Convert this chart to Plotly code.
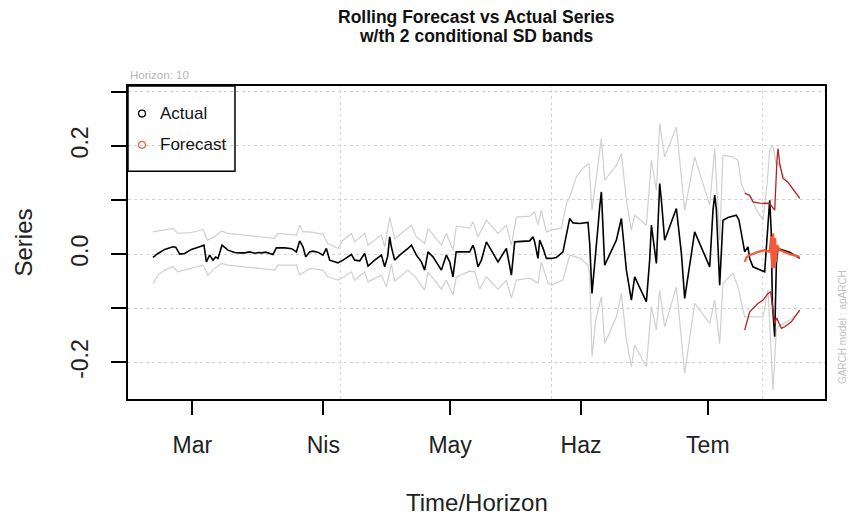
import pandas as pd
import plotly.graph_objects as go

# x positions are days since 2023-03-01 (fractional days allowed)
BASE = pd.Timestamp("2023-03-01")

actual_days = [-9.33, -8.14, -6.56, -4.59, -3.95, -3.01, -1.82, -0.24, 1.73, 2.75, 3.31, 4.09, 4.88, 5.52,
               6.06, 7.01, 8.43, 10.01, 11.2, 12.38, 13.56, 14.75, 15.69, 16.4, 17.35, 18.3, 19.08, 19.88,
               21.85, 23.5, 24.62, 25.4, 26.18, 26.82, 27.77, 28.48, 29.66, 30.91, 31.72, 32.5, 34.46, 35.65,
               37.64, 38.42, 39.6, 40.78, 41.57, 43.15, 44.74, 45.52, 46.23, 46.7, 47.1, 47.88, 49.07, 51.03,
               51.84, 53.02, 54.2, 54.98, 55.77, 56.95, 57.75, 58.94, 60.12, 60.9, 61.68, 62.44, 64.45, 65.64,
               66.42, 66.82, 67.6, 68.41, 69.59, 70.77, 72.34, 74.32, 75.51, 76.29, 78.25, 79.84, 80.62, 81.02,
               81.8, 82.21, 82.99, 83.79, 84.98, 86.16, 87.72, 89.31, 90.09, 91.67, 93.64, 94.04, 94.59, 95.22,
               96.01, 96.41, 96.81, 97.59, 100.36, 101.54, 102.73, 103.91, 104.69, 107.46, 108.24, 108.65,
               109.43, 109.83, 110.61, 111.01, 111.79, 114.56, 115.75, 116.53, 118.89, 122.45, 123.23, 123.63,
               124.03, 124.81, 125.59, 126.78, 128.76, 129.38, 130.73, 131.51, 131.91, 132.69, 135.46, 136.01,
               136.65, 137.0, 137.29, 137.83, 138.23, 138.61, 141.38, 143.75]
actual_vals = [-0.0061, 0.0013, 0.0087, 0.0135, 0.0129, 0.0, 0.0013, 0.0087, 0.0135, 0.0166, -0.0142, -0.0018,
               -0.0111, -0.0055, -0.0079, 0.0166, 0.0074, 0.0031, 0.0024, 0.0024, 0.0042, 0.0018, 0.0031, 0.0024,
               0.0037, 0.0018, -0.0006, 0.0116, 0.0116, 0.0101, 0.0042, 0.0245, 0.0135, -0.005, 0.0042, 0.0055,
               0.0037, -0.0018, 0.0105, -0.0111, -0.0161, -0.0111, -0.0006, -0.0111, -0.0124, 0.0013, -0.0221,
               -0.0111, -0.0018, -0.0234, -0.0037, 0.0319, 0.0135, -0.0111, -0.0018, 0.0105, 0.0166, -0.0018,
               -0.0142, -0.0295, 0.0042, -0.005, -0.0142, -0.0295, -0.0018, -0.0142, -0.0419, 0.0042, 0.0042,
               0.0042, 0.0166, 0.0074, -0.0234, -0.0111, 0.0227, 0.0074, -0.0142, 0.0105, -0.0387, 0.0227, 0.024,
               0.0245, 0.0319, 0.0227, -0.0079, 0.0258, 0.0111, -0.0079, -0.0079, -0.0061, 0.0042, 0.0659, 0.0577,
               0.0566, 0.0585, 0.0197, -0.0725, -0.0234, 0.0504, 0.0873, 0.1149, -0.0203, 0.0258, 0.0659, -0.0295,
               -0.0849, -0.0419, -0.088, -0.0111, 0.0535, 0.0013, -0.0172, 0.1304, 0.0996, 0.0258, 0.0843, 0.0013,
               -0.0817, 0.0411, -0.0234, 0.0812, 0.1089, 0.0812, -0.0572, 0.0627, 0.0677, 0.072, 0.0627, 0.0042,
               0.0135, -0.0079, -0.0234, -0.0327, 0.0258, 0.0996, 0.0443, -0.091, -0.1526, -0.0172, 0.0105, 0.0037,
               -0.0079]

upper_days = [-9.33, -6.56, -4.59, -3.41, -0.24, 2.51, 3.55, 5.28, 6.86, 8.43, 12.38, 19.48, 20.26, 24.62, 25.4,
              26.18, 27.77, 30.84, 32.09, 34.46, 35.65, 37.64, 38.42, 40.78, 41.57, 44.74, 45.52, 46.7, 47.88,
              51.03, 51.84, 53.02, 54.98, 55.77, 58.94, 60.12, 61.68, 62.49, 65.64, 66.42, 67.6, 69.59, 72.34,
              74.32, 75.51, 76.7, 79.84, 81.02, 81.8, 82.61, 83.79, 84.98, 87.34, 88.53, 89.31, 90.89, 92.45,
              93.88, 94.59, 96.81, 97.59, 100.36, 101.54, 102.73, 103.91, 104.69, 107.46, 108.65, 109.83, 110.61,
              111.79, 114.56, 116.53, 118.89, 122.45, 123.63, 124.81, 125.59, 127.96, 129.14, 129.95, 130.73,
              132.62, 133.57, 135.06, 136.01, 136.65, 137.36, 138.23, 138.61, 140.19, 143.75]
upper_vals = [0.0411, 0.0456, 0.0474, 0.0382, 0.04, 0.0456, 0.0258, 0.0319, 0.043, 0.0382, 0.0351, 0.029, 0.0382,
              0.0351, 0.0535, 0.0411, 0.0411, 0.0369, 0.0197, 0.0105, 0.0258, 0.0382, 0.0227, 0.0382, 0.0166,
              0.0351, 0.0135, 0.0677, 0.029, 0.0474, 0.0535, 0.0319, 0.0197, 0.0474, 0.0166, 0.0387, 0.0074,
              0.0517, 0.048, 0.0596, 0.0319, 0.0627, 0.0382, 0.0535, 0.0166, 0.0683, 0.0701, 0.0775, 0.0535,
              0.0812, 0.0411, 0.0443, 0.048, 0.0935, 0.1057, 0.1426, 0.1587, 0.1673, 0.0812, 0.2135, 0.1365,
              0.1642, 0.1858, 0.0996, 0.0443, 0.072, 0.0535, 0.1734, 0.1181, 0.2411, 0.1795, 0.2349, 0.0812,
              0.1795, 0.0904, 0.1956, 0.0258, 0.1827, 0.1795, 0.1734, 0.1304, 0.1149, 0.0996, 0.0812, 0.0627,
              0.1273, 0.1919, 0.2011, 0.1642, 0.1679, 0.1402, 0.1052]

lower_days = [-9.33, -8.14, -6.56, -4.59, -3.41, -0.24, 2.51, 3.69, 4.81, 6.86, 8.43, 12.38, 19.48, 20.26, 24.62,
              25.4, 26.58, 27.77, 30.84, 32.09, 34.46, 35.65, 37.64, 38.42, 40.78, 41.57, 44.74, 45.92, 47.1,
              47.88, 51.03, 53.02, 54.98, 55.77, 58.94, 60.12, 61.68, 62.49, 65.64, 66.82, 68.0, 69.59, 72.34,
              74.32, 75.51, 76.7, 79.84, 81.8, 82.61, 84.17, 84.98, 87.72, 89.31, 91.67, 93.64, 94.04, 94.59,
              95.46, 96.81, 97.59, 100.36, 101.54, 102.73, 103.91, 104.69, 107.46, 108.65, 109.83, 110.61,
              111.79, 114.56, 116.53, 118.89, 122.45, 123.63, 124.81, 125.59, 127.96, 129.14, 130.73, 135.06,
              136.25, 137.43, 138.23, 138.61, 141.38, 143.75]
lower_vals = [-0.0541, -0.0387, -0.0295, -0.0234, -0.0327, -0.0264, -0.0203, -0.0387, -0.0295, -0.0172, -0.0203,
              -0.0234, -0.0295, -0.0203, -0.0203, -0.0387, -0.0327, -0.0264, -0.0295, -0.0419, -0.048, -0.043,
              -0.0327, -0.048, -0.0327, -0.0511, -0.0387, -0.0603, -0.0185, -0.0498, -0.0295, -0.0443, -0.0664,
              -0.0332, -0.0646, -0.048, -0.0756, -0.0419, -0.0314, -0.0327, -0.0646, -0.0419, -0.0646, -0.048,
              -0.0812, -0.048, -0.0443, -0.0535, -0.0148, -0.0535, -0.0572, -0.048, -0.0018, -0.0074, -0.0203,
              -0.0387, -0.1895, -0.1218, -0.0788, -0.1648, -0.1157, -0.0725, -0.1587, -0.2079, -0.1679, -0.2079,
              -0.0972, -0.1402, -0.0664, -0.1341, -0.0603, -0.2201, -0.091, -0.1279, -0.0849, -0.1648, -0.0541,
              -0.0356, -0.0603, -0.1157, -0.1157, -0.0664, -0.2509, -0.1402, -0.1341, -0.1218, -0.1065]

forecast_days = [130.73, 131.2, 131.91, 133.88, 135.46, 136.65, 137.0, 137.24, 137.48, 137.71, 137.95, 138.19,
                 138.42, 139.02, 141.38, 143.75]
forecast_vals = [-0.0142, -0.0055, -0.0018, 0.0042, 0.0074, 0.0042, 0.0332, -0.0258, 0.0387, -0.0258, 0.0295,
                 -0.0148, 0.0166, 0.0074, 0.0, -0.005]

fc_upper_days = [130.73, 131.91, 132.69, 134.28, 136.65, 137.83, 138.37, 138.61, 139.02, 139.8, 140.91, 143.75]
fc_upper_vals = [0.112, 0.1089, 0.0965, 0.0941, 0.0935, 0.0812, 0.1734, 0.195, 0.1673, 0.1397, 0.1334, 0.1028]

fc_lower_days = [130.73, 131.91, 133.88, 135.06, 136.25, 136.89, 137.36, 137.83, 138.3, 139.42, 140.19, 141.77,
                 143.75]
fc_lower_vals = [-0.1402, -0.1065, -0.091, -0.0849, -0.0725, -0.0696, -0.0996, -0.1279, -0.1181, -0.1371,
                 -0.1341, -0.1249, -0.1033]

month_ticks = ["2023-03-01", "2023-04-01", "2023-05-01", "2023-06-01", "2023-07-01"]
month_labels = ["Mar", "Nis", "May", "Haz", "Tem"]
grid_dates = ["2023-04-05", "2023-05-25", "2023-07-14"]
y_ticks = [-0.2, -0.1, 0.0, 0.1, 0.2, 0.3]
y_labels = ["-0.2", "", "0.0", "", "0.2", ""]


def to_dates(days):
    return BASE + pd.to_timedelta(days, unit="D")


FONT = "Liberation Sans, Arial, sans-serif"
GRID = "#d3d3d3"

fig = go.Figure()
fig.add_trace(go.Scatter(x=to_dates(upper_days), y=upper_vals, mode="lines",
                         line=dict(color="#d0d0d0", width=1.2), showlegend=False))
fig.add_trace(go.Scatter(x=to_dates(lower_days), y=lower_vals, mode="lines",
                         line=dict(color="#d0d0d0", width=1.2), showlegend=False))
fig.add_trace(go.Scatter(x=to_dates(actual_days), y=actual_vals, mode="lines",
                         line=dict(color="black", width=1.6), showlegend=False))
fig.add_trace(go.Scatter(x=to_dates(fc_upper_days), y=fc_upper_vals, mode="lines",
                         line=dict(color="#b22222", width=1.3), showlegend=False))
fig.add_trace(go.Scatter(x=to_dates(fc_lower_days), y=fc_lower_vals, mode="lines",
                         line=dict(color="#b22222", width=1.3), showlegend=False))
fig.add_trace(go.Scatter(x=to_dates(forecast_days), y=forecast_vals, mode="lines",
                         line=dict(color="#f05a3a", width=2.2), showlegend=False))

# vertical dotted grid lines
for g in grid_dates:
    fig.add_shape(type="line", xref="x", yref="paper", x0=g, x1=g, y0=0, y1=1,
                  line=dict(color=GRID, width=1, dash="dot"), layer="below")

# legend box (transparent, top-left corner of the panel)
fig.add_shape(type="rect", xref="paper", yref="paper", x0=0, x1=0.1535, y0=0.728, y1=1.0,
              line=dict(color="black", width=1.5), fillcolor="rgba(0,0,0,0)")
for yy, col, txt in [(0.912, "black", "Actual"), (0.812, "#f06048", "Forecast")]:
    fig.add_shape(type="circle", xref="paper", yref="paper",
                  x0=0.0151, x1=0.0251, y0=yy - 0.011, y1=yy + 0.011,
                  line=dict(color=col, width=1.3))
    fig.add_annotation(x=0.0430, y=yy, xref="paper", yref="paper", text=txt, showarrow=False,
                       xanchor="left", yanchor="middle", font=dict(family=FONT, size=17, color="#111"))

# two-line bold title
TITLE_FONT = dict(family="Liberation Sans Narrow, Arial Narrow, Liberation Sans", size=17.5, color="#111")
fig.add_annotation(x=0.5, y=1.2204, xref="paper", yref="paper",
                   text="<b>Rolling Forecast vs Actual Series</b>", showarrow=False,
                   xanchor="center", yanchor="middle", font=TITLE_FONT)
fig.add_annotation(x=0.5, y=1.1597, xref="paper", yref="paper",
                   text="<b>w/th 2 conditional SD bands</b>", showarrow=False,
                   xanchor="center", yanchor="middle", font=TITLE_FONT)

fig.add_annotation(x=0, y=1.035, xref="paper", yref="paper", text="Horizon: 10", showarrow=False,
                   xanchor="left", yanchor="middle", font=dict(family=FONT, size=11.5, color="#b5b5b5"))
fig.add_annotation(x=1.0245, y=0.23, xref="paper", yref="paper", text="GARCH model : apARCH",
                   showarrow=False, textangle=-90, xanchor="center", yanchor="middle",
                   font=dict(family=FONT, size=10, color="#c0c0c0"))
fig.add_annotation(x=0.5, y=-0.332, xref="paper", yref="paper", text="Time/Horizon", showarrow=False,
                   xanchor="center", yanchor="middle", font=dict(family=FONT, size=24, color="#222"))
fig.add_annotation(x=-0.1506, y=0.5, xref="paper", yref="paper", text="Series", showarrow=False,
                   textangle=-90, xanchor="center", yanchor="middle",
                   font=dict(family=FONT, size=24, color="#222"))

fig.update_layout(
    width=850, height=519,
    margin=dict(l=128, r=25, t=86, b=120),
    paper_bgcolor="white", plot_bgcolor="white",
    showlegend=False,
    xaxis=dict(type="date", range=[BASE + pd.Timedelta(days=-15.24), BASE + pd.Timedelta(days=149.74)],
               tickvals=month_ticks, ticktext=month_labels, showgrid=False, zeroline=False,
               showline=True, mirror=True, linecolor="black", linewidth=1.5,
               ticks="outside", ticklen=14, tickwidth=1.5, tickcolor="black", ticklabelstandoff=11,
               tickfont=dict(family=FONT, size=23, color="#222")),
    yaxis=dict(range=[-0.2675, 0.3105], tickvals=y_ticks, ticktext=y_labels, tickangle=-90,
               showgrid=True, gridcolor=GRID, griddash="dot", gridwidth=1, zeroline=False,
               showline=True, mirror=True, linecolor="black", linewidth=1.5,
               ticks="outside", ticklen=15, tickwidth=1.5, tickcolor="black", ticklabelstandoff=14,
               tickfont=dict(family=FONT, size=23, color="#222")),
)

fig.write_html("out.html")
